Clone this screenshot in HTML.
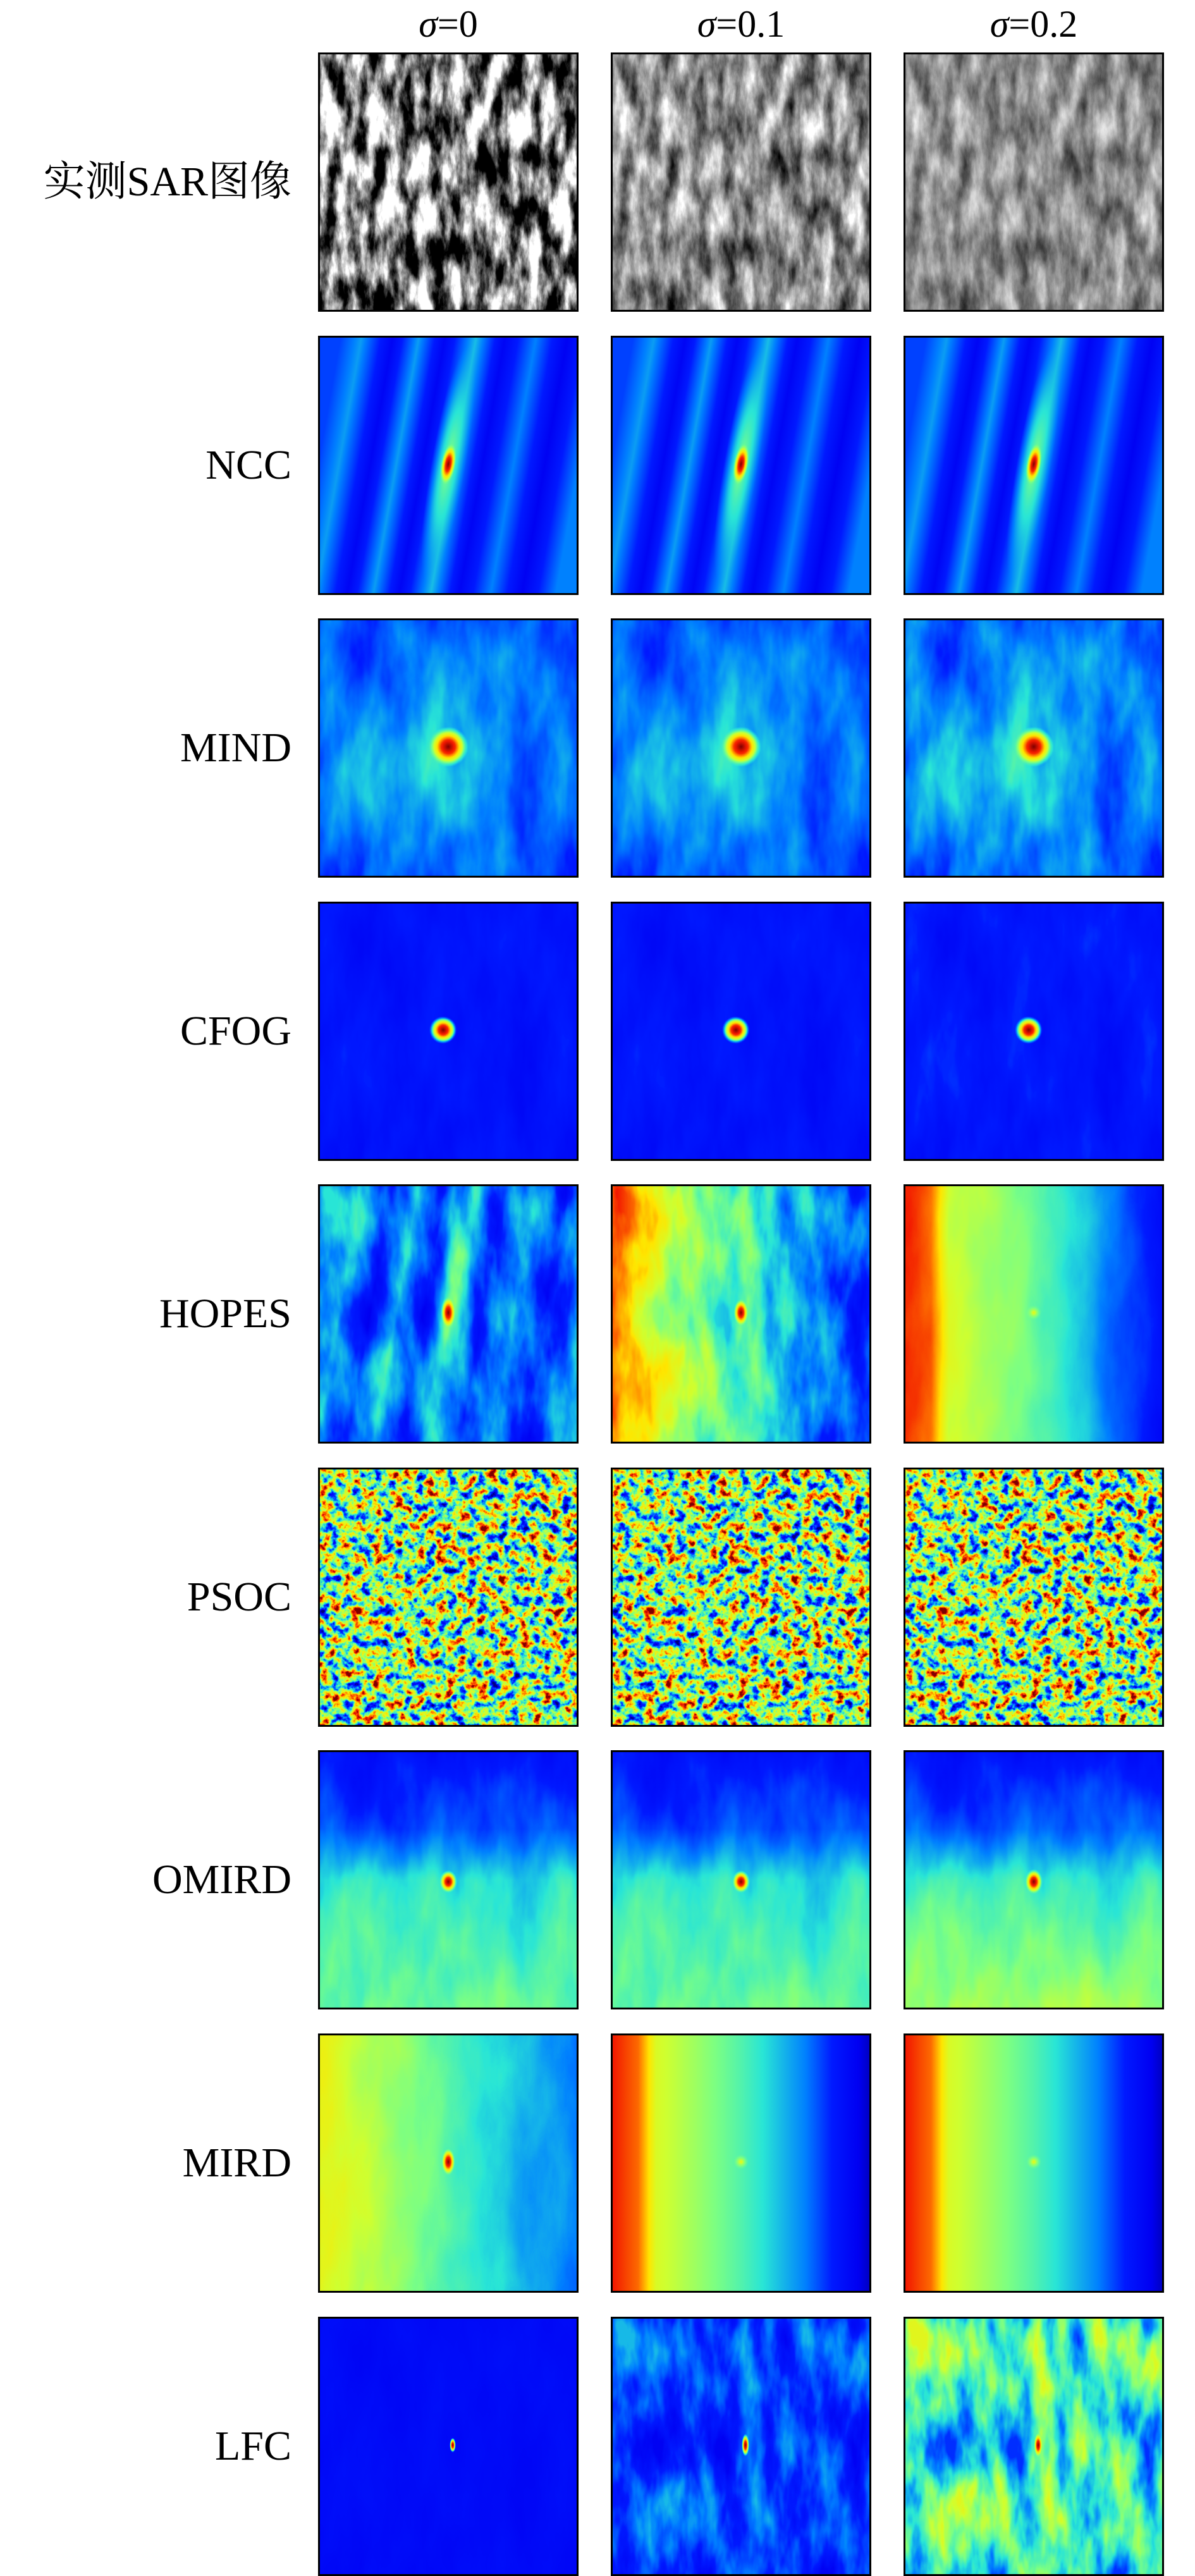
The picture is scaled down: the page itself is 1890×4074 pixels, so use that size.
<!DOCTYPE html>
<html><head><meta charset="utf-8"><style>
html,body{margin:0;padding:0;background:#fff;}
body{width:1890px;height:4074px;position:relative;overflow:hidden;font-family:"Liberation Serif","Noto Serif CJK SC",serif;}
.c{position:absolute;width:412px;height:410px;border:3px solid #000;box-sizing:border-box;overflow:hidden;background:#0040ff;}
.c svg{display:block;}
.l{position:absolute;right:1429px;font-size:66px;line-height:80px;color:#000;white-space:nowrap;}
.t{position:absolute;top:0;width:412px;text-align:center;font-size:60px;line-height:76px;}
.t i{font-style:italic;}
</style></head><body>
<svg width="0" height="0" style="position:absolute">
<defs>
<filter id="jet" color-interpolation-filters="sRGB" x="0" y="0" width="1" height="1">
<feComponentTransfer>
<feFuncR type="table" tableValues="0 0 0 0 0.16 0.48 0.81 1 1 0.95 0.5"/>
<feFuncG type="table" tableValues="0 0 0.1 0.5 0.9 1 1 0.9 0.5 0.1 0"/>
<feFuncB type="table" tableValues="0.5 0.95 1 1 0.84 0.52 0.19 0 0 0 0"/>
</feComponentTransfer></filter>
<filter id="sar1" color-interpolation-filters="sRGB" x="0" y="0" width="1" height="1">
<feTurbulence type="fractalNoise" baseFrequency="0.04 0.014" numOctaves="6" seed="3"/>
<feColorMatrix values="3.2 0 0 0 -1.1  3.2 0 0 0 -1.1  3.2 0 0 0 -1.1  0 0 0 0 1"/></filter>
<filter id="sar2" color-interpolation-filters="sRGB" x="0" y="0" width="1" height="1">
<feTurbulence type="fractalNoise" baseFrequency="0.04 0.014" numOctaves="6" seed="3"/>
<feColorMatrix values="1.5 0 0 0 -0.2  1.5 0 0 0 -0.2  1.5 0 0 0 -0.2  0 0 0 0 1"/></filter>
<filter id="sar3" color-interpolation-filters="sRGB" x="0" y="0" width="1" height="1">
<feTurbulence type="fractalNoise" baseFrequency="0.04 0.014" numOctaves="6" seed="3"/>
<feColorMatrix values="1.0 0 0 0 0.05  1.0 0 0 0 0.05  1.0 0 0 0 0.05  0 0 0 0 1"/></filter>
<filter id="psoc" color-interpolation-filters="sRGB" x="0" y="0" width="1" height="1">
<feTurbulence type="fractalNoise" baseFrequency="0.06" numOctaves="5" seed="7"/>
<feColorMatrix values="1.7 0 0 0 -0.32  1.7 0 0 0 -0.32  1.7 0 0 0 -0.32  0 0 0 0 1"/>
<feComponentTransfer>
<feFuncR type="table" tableValues="0 0 0 0 0.16 0.48 0.81 1 1 0.95 0.5"/>
<feFuncG type="table" tableValues="0 0 0.1 0.5 0.9 1 1 0.9 0.5 0.1 0"/>
<feFuncB type="table" tableValues="0.5 0.95 1 1 0.84 0.52 0.19 0 0 0 0"/>
</feComponentTransfer></filter>
<filter id="gn" color-interpolation-filters="sRGB" x="0" y="0" width="1" height="1">
<feTurbulence type="fractalNoise" baseFrequency="0.02 0.006" numOctaves="4" seed="11"/>
<feColorMatrix values="1 0 0 0 0  1 0 0 0 0  1 0 0 0 0  0 0 0 0 0.45"/></filter>
<filter id="gn2" color-interpolation-filters="sRGB" x="0" y="0" width="1" height="1">
<feTurbulence type="fractalNoise" baseFrequency="0.025 0.008" numOctaves="4" seed="5"/>
<feColorMatrix values="1.6 0 0 0 -0.3  1.6 0 0 0 -0.3  1.6 0 0 0 -0.3  0 0 0 0 0.7"/></filter>
<linearGradient id="stripes" gradientTransform="rotate(10 .5 .5)">
<stop offset="0" stop-color="rgb(24%,24%,24%)"/><stop offset=".08" stop-color="rgb(33%,33%,33%)"/>
<stop offset=".2" stop-color="rgb(12%,12%,12%)"/><stop offset=".3" stop-color="rgb(33%,33%,33%)"/>
<stop offset=".4" stop-color="rgb(12%,12%,12%)"/><stop offset=".52" stop-color="rgb(36%,36%,36%)"/>
<stop offset=".63" stop-color="rgb(12%,12%,12%)"/><stop offset=".75" stop-color="rgb(30%,30%,30%)"/>
<stop offset=".87" stop-color="rgb(11%,11%,11%)"/><stop offset="1" stop-color="rgb(30%,30%,30%)"/>
</linearGradient>
<radialGradient id="streak"><stop offset="0" stop-color="rgb(52%,52%,52%)"/><stop offset=".5" stop-color="rgb(42%,42%,42%)" stop-opacity=".7"/><stop offset="1" stop-color="rgb(35%,35%,35%)" stop-opacity="0"/></radialGradient>
<radialGradient id="spot"><stop offset="0" stop-color="rgb(100%,100%,100%)"/><stop offset=".35" stop-color="rgb(88%,88%,88%)"/><stop offset=".7" stop-color="rgb(65%,65%,65%)" stop-opacity=".8"/><stop offset="1" stop-color="rgb(45%,45%,45%)" stop-opacity="0"/></radialGradient>
<radialGradient id="spotw"><stop offset="0" stop-color="rgb(66%,66%,66%)"/><stop offset="1" stop-color="rgb(50%,50%,50%)" stop-opacity="0"/></radialGradient>
<radialGradient id="mindbg" cx=".45" cy=".55" r=".6"><stop offset="0" stop-color="rgb(34%,34%,34%)"/><stop offset=".5" stop-color="rgb(26%,26%,26%)"/><stop offset="1" stop-color="rgb(18%,18%,18%)"/></radialGradient>
<linearGradient id="hop2"><stop offset="0" stop-color="rgb(90%,90%,90%)"/><stop offset=".1" stop-color="rgb(75%,75%,75%)"/><stop offset=".25" stop-color="rgb(57%,57%,57%)"/><stop offset=".5" stop-color="rgb(43%,43%,43%)"/><stop offset=".7" stop-color="rgb(30%,30%,30%)"/><stop offset="1" stop-color="rgb(15%,15%,15%)"/></linearGradient>
<linearGradient id="hop3"><stop offset="0" stop-color="rgb(92%,92%,92%)"/><stop offset=".1" stop-color="rgb(85%,85%,85%)"/><stop offset=".17" stop-color="rgb(62%,62%,62%)"/><stop offset=".45" stop-color="rgb(50%,50%,50%)"/><stop offset=".7" stop-color="rgb(35%,35%,35%)"/><stop offset="1" stop-color="rgb(12%,12%,12%)"/></linearGradient>
<linearGradient id="omird" x2="0" y2="1"><stop offset="0" stop-color="rgb(10%,10%,10%)"/><stop offset=".3" stop-color="rgb(20%,20%,20%)"/><stop offset=".5" stop-color="rgb(38%,38%,38%)"/><stop offset="1" stop-color="rgb(48%,48%,48%)"/></linearGradient>
<linearGradient id="omird3" x2="0" y2="1"><stop offset="0" stop-color="rgb(10%,10%,10%)"/><stop offset=".3" stop-color="rgb(22%,22%,22%)"/><stop offset=".5" stop-color="rgb(40%,40%,40%)"/><stop offset="1" stop-color="rgb(56%,56%,56%)"/></linearGradient>
<linearGradient id="mird1"><stop offset="0" stop-color="rgb(66%,66%,66%)"/><stop offset=".3" stop-color="rgb(54%,54%,54%)"/><stop offset=".6" stop-color="rgb(40%,40%,40%)"/><stop offset="1" stop-color="rgb(28%,28%,28%)"/></linearGradient>
<linearGradient id="mird2"><stop offset="0" stop-color="rgb(90%,90%,90%)"/><stop offset=".1" stop-color="rgb(82%,82%,82%)"/><stop offset=".17" stop-color="rgb(62%,62%,62%)"/><stop offset=".5" stop-color="rgb(45%,45%,45%)"/><stop offset=".75" stop-color="rgb(30%,30%,30%)"/><stop offset="1" stop-color="rgb(6%,6%,6%)"/></linearGradient>
</defs></svg>

<div class="t" style="left:503px"><i>σ</i>=0</div>
<div class="t" style="left:966px"><i>σ</i>=0.1</div>
<div class="t" style="left:1429px"><i>σ</i>=0.2</div>

<div class="l" style="top:248px">实测SAR图像</div>
<div class="l" style="top:696px">NCC</div>
<div class="l" style="top:1143px">MIND</div>
<div class="l" style="top:1591px">CFOG</div>
<div class="l" style="top:2038px">HOPES</div>
<div class="l" style="top:2486px">PSOC</div>
<div class="l" style="top:2933px">OMIRD</div>
<div class="l" style="top:3381px">MIRD</div>
<div class="l" style="top:3829px">LFC</div>

<div class="c" style="left:503px;top:83px"><svg width="406" height="404"><rect width="406" height="404" filter="url(#sar1)"/></svg></div>
<div class="c" style="left:966px;top:83px"><svg width="406" height="404"><rect width="406" height="404" filter="url(#sar2)"/></svg></div>
<div class="c" style="left:1429px;top:83px"><svg width="406" height="404"><rect width="406" height="404" filter="url(#sar3)"/></svg></div>

<div class="c" style="left:503px;top:531px"><svg width="406" height="404"><g filter="url(#jet)"><rect width="406" height="404" fill="url(#stripes)"/><ellipse cx="203" cy="200" rx="28" ry="190" transform="rotate(10 203 200)" fill="url(#streak)"/><ellipse cx="203" cy="200" rx="12" ry="34" transform="rotate(10 203 200)" fill="url(#spot)"/></g></svg></div>
<div class="c" style="left:966px;top:531px"><svg width="406" height="404"><g filter="url(#jet)"><rect width="406" height="404" fill="url(#stripes)"/><ellipse cx="203" cy="200" rx="28" ry="190" transform="rotate(10 203 200)" fill="url(#streak)"/><ellipse cx="203" cy="200" rx="12" ry="34" transform="rotate(10 203 200)" fill="url(#spot)"/></g></svg></div>
<div class="c" style="left:1429px;top:531px"><svg width="406" height="404"><g filter="url(#jet)"><rect width="406" height="404" fill="url(#stripes)"/><ellipse cx="203" cy="200" rx="28" ry="190" transform="rotate(10 203 200)" fill="url(#streak)"/><ellipse cx="203" cy="200" rx="12" ry="34" transform="rotate(10 203 200)" fill="url(#spot)"/></g></svg></div>

<div class="c" style="left:503px;top:978px"><svg width="406" height="404"><g filter="url(#jet)"><rect width="406" height="404" fill="url(#mindbg)"/><rect width="406" height="404" fill="#000" filter="url(#gn)" opacity=".5"/><circle cx="203" cy="200" r="32" fill="url(#spot)"/></g></svg></div>
<div class="c" style="left:966px;top:978px"><svg width="406" height="404"><g filter="url(#jet)"><rect width="406" height="404" fill="url(#mindbg)"/><rect width="406" height="404" fill="#000" filter="url(#gn)" opacity=".5"/><circle cx="203" cy="200" r="32" fill="url(#spot)"/></g></svg></div>
<div class="c" style="left:1429px;top:978px"><svg width="406" height="404"><g filter="url(#jet)"><rect width="406" height="404" fill="url(#mindbg)"/><rect width="406" height="404" fill="#000" filter="url(#gn)" opacity=".6"/><circle cx="203" cy="200" r="32" fill="url(#spot)"/></g></svg></div>

<div class="c" style="left:503px;top:1426px"><svg width="406" height="404"><g filter="url(#jet)"><rect width="406" height="404" fill="rgb(13%,13%,13%)"/><rect width="406" height="404" filter="url(#gn)" opacity=".25"/><circle cx="195" cy="200" r="22" fill="url(#spot)"/></g></svg></div>
<div class="c" style="left:966px;top:1426px"><svg width="406" height="404"><g filter="url(#jet)"><rect width="406" height="404" fill="rgb(13%,13%,13%)"/><rect width="406" height="404" filter="url(#gn)" opacity=".25"/><circle cx="195" cy="200" r="22" fill="url(#spot)"/></g></svg></div>
<div class="c" style="left:1429px;top:1426px"><svg width="406" height="404"><g filter="url(#jet)"><rect width="406" height="404" fill="rgb(13%,13%,13%)"/><rect width="406" height="404" filter="url(#gn)" opacity=".3"/><circle cx="195" cy="200" r="22" fill="url(#spot)"/></g></svg></div>

<div class="c" style="left:503px;top:1873px"><svg width="406" height="404"><g filter="url(#jet)"><rect width="406" height="404" fill="url(#stripes)"/><ellipse cx="203" cy="200" rx="28" ry="190" transform="rotate(10 203 200)" fill="url(#streak)"/><rect width="406" height="404" filter="url(#gn2)" opacity=".3"/><ellipse cx="203" cy="200" rx="12" ry="26" fill="url(#spot)"/></g></svg></div>
<div class="c" style="left:966px;top:1873px"><svg width="406" height="404"><g filter="url(#jet)"><rect width="406" height="404" fill="url(#hop2)"/><rect width="406" height="404" filter="url(#gn2)" opacity=".3"/><ellipse cx="203" cy="200" rx="12" ry="22" fill="url(#spot)"/></g></svg></div>
<div class="c" style="left:1429px;top:1873px"><svg width="406" height="404"><g filter="url(#jet)"><rect width="406" height="404" fill="url(#hop3)"/><rect width="406" height="404" filter="url(#gn)" opacity=".2"/><circle cx="203" cy="200" r="12" fill="url(#spotw)"/></g></svg></div>

<div class="c" style="left:503px;top:2321px"><svg width="406" height="404"><rect width="406" height="404" filter="url(#psoc)"/></svg></div>
<div class="c" style="left:966px;top:2321px"><svg width="406" height="404"><rect width="406" height="404" filter="url(#psoc)"/></svg></div>
<div class="c" style="left:1429px;top:2321px"><svg width="406" height="404"><rect width="406" height="404" filter="url(#psoc)"/></svg></div>

<div class="c" style="left:503px;top:2768px"><svg width="406" height="404"><g filter="url(#jet)"><rect width="406" height="404" fill="url(#omird)"/><rect width="406" height="404" filter="url(#gn)" opacity=".35"/><ellipse cx="203" cy="205" rx="14" ry="18" fill="url(#spot)"/></g></svg></div>
<div class="c" style="left:966px;top:2768px"><svg width="406" height="404"><g filter="url(#jet)"><rect width="406" height="404" fill="url(#omird)"/><rect width="406" height="404" filter="url(#gn)" opacity=".35"/><ellipse cx="203" cy="205" rx="14" ry="18" fill="url(#spot)"/></g></svg></div>
<div class="c" style="left:1429px;top:2768px"><svg width="406" height="404"><g filter="url(#jet)"><rect width="406" height="404" fill="url(#omird3)"/><rect width="406" height="404" filter="url(#gn)" opacity=".35"/><ellipse cx="203" cy="205" rx="14" ry="20" fill="url(#spot)"/></g></svg></div>

<div class="c" style="left:503px;top:3216px"><svg width="406" height="404"><g filter="url(#jet)"><rect width="406" height="404" fill="url(#mird1)"/><rect width="406" height="404" filter="url(#gn)" opacity=".2"/><ellipse cx="203" cy="200" rx="11" ry="22" fill="url(#spot)"/></g></svg></div>
<div class="c" style="left:966px;top:3216px"><svg width="406" height="404"><g filter="url(#jet)"><rect width="406" height="404" fill="url(#mird2)"/><circle cx="203" cy="200" r="12" fill="url(#spotw)"/></g></svg></div>
<div class="c" style="left:1429px;top:3216px"><svg width="406" height="404"><g filter="url(#jet)"><rect width="406" height="404" fill="url(#mird2)"/><circle cx="203" cy="200" r="12" fill="url(#spotw)"/></g></svg></div>

<div class="c" style="left:503px;top:3664px"><svg width="406" height="404"><g filter="url(#jet)"><rect width="406" height="404" fill="rgb(12%,12%,12%)"/><rect width="406" height="404" filter="url(#gn)" opacity=".12"/><ellipse cx="210" cy="200" rx="5" ry="12" fill="url(#spot)"/></g></svg></div>
<div class="c" style="left:966px;top:3664px"><svg width="406" height="404"><g filter="url(#jet)"><rect width="406" height="404" fill="rgb(15%,15%,15%)"/><rect width="406" height="404" filter="url(#gn2)" opacity=".35"/><ellipse cx="210" cy="200" rx="6" ry="18" fill="url(#spot)"/></g></svg></div>
<div class="c" style="left:1429px;top:3664px"><svg width="406" height="404"><g filter="url(#jet)"><rect width="406" height="404" fill="rgb(38%,38%,38%)"/><rect width="406" height="404" filter="url(#gn2)" opacity=".6"/><ellipse cx="210" cy="200" rx="7" ry="20" fill="url(#spot)"/></g></svg></div>
</body></html>
